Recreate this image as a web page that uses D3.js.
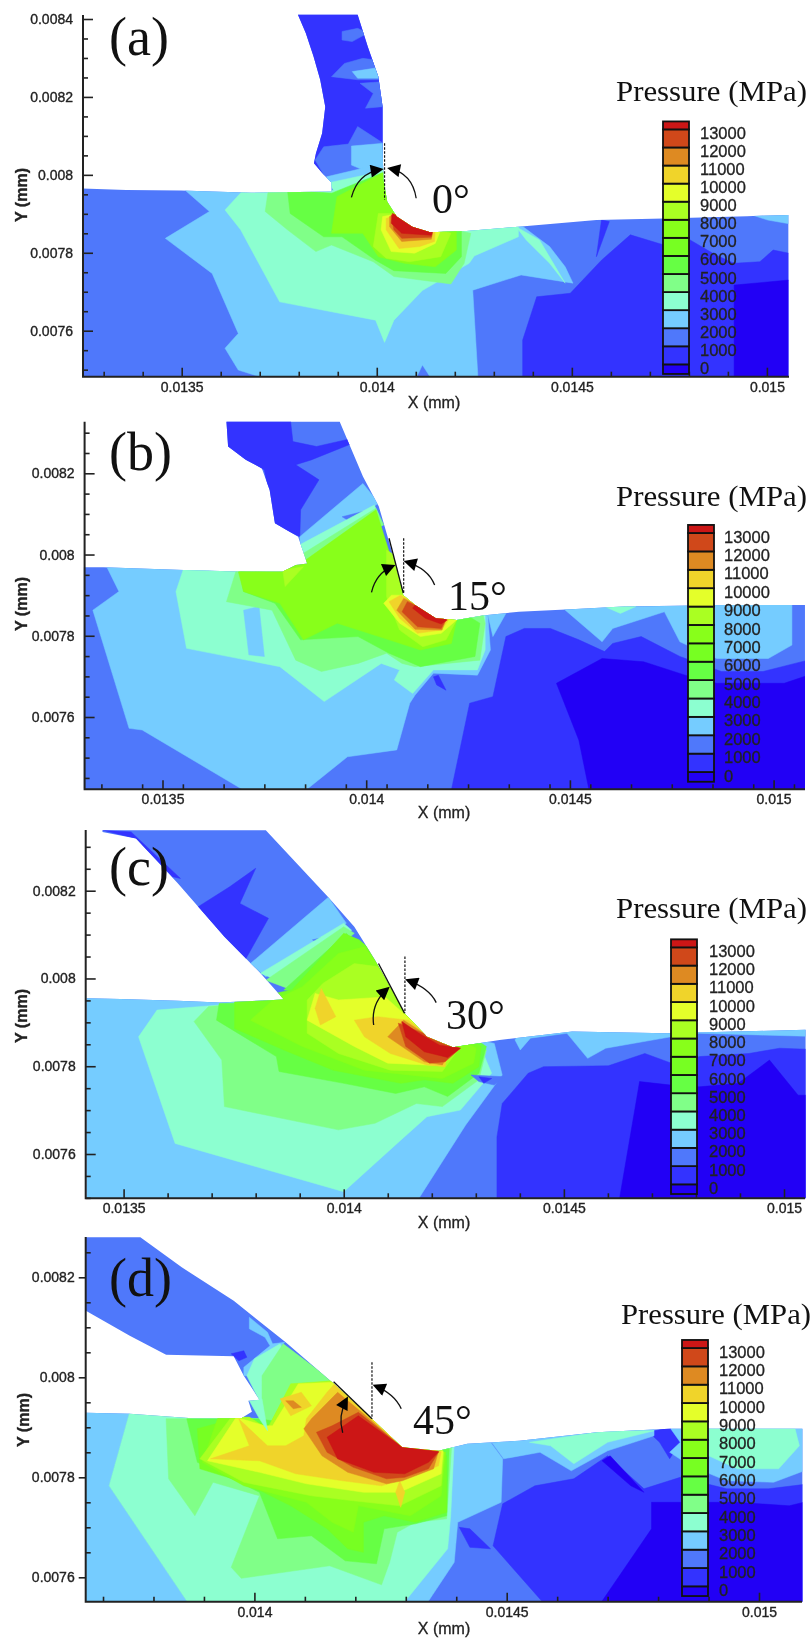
<!DOCTYPE html>
<html>
<head>
<meta charset="utf-8">
<script src="https://cdnjs.cloudflare.com/ajax/libs/d3/7.8.5/d3.min.js"></script>
<style>
html,body{margin:0;padding:0;background:#fff}
svg{display:block;filter:blur(0.55px)}
.tick text{font-family:"Liberation Sans",sans-serif;fill:#222;stroke:#222;stroke-width:0.35px}
.serif{font-family:"Liberation Serif",serif;fill:#111}
.sans{font-family:"Liberation Sans",sans-serif;fill:#222;stroke:#222;stroke-width:0.3px}
</style>
</head>
<body>
<div id="graph"></div>
<script>
// all coordinates below are data units: nanometres, tick labels show them as mm
var band_values = [0,1000,2000,3000,4000,5000,6000,7000,8000,9000,10000,11000,12000,13000,14000];
var band_colors = ['#2200f5','#3333ff','#4f78fb','#75ccff','#8cffd0','#80ff88','#66ff44','#77ff22','#88ff1a','#aaff22','#e4ff2a','#f0d42a','#de8a22','#d0481a','#cc1616'];
var legend_labels = [13000,12000,11000,10000,9000,8000,7000,6000,5000,4000,3000,2000,1000,0];
var legend_bounds = [-330,200,1200,2200,3200,4200,5200,6200,7200,8200,9200,10200,11200,12200,13200,13640];
var angle_names = ['0°','15°','30°','45°'];

var a_outline = [[13798,8411],[13818,8364],[13838,8304],[13855,8244],[13868,8175],[13860,8107],[13844,8055],[13839,8030],[13864,8000],[13884,7980],[13884,7957],[13678,7954],[13498,7960],[13358,7961],[13245,7965],[13245,7482],[15055,7482],[15055,7897],[14949,7894],[14736,7888],[14563,7884],[14363,7867],[14230,7856],[14137,7853],[14091,7867],[14051,7893],[14027,7931],[14017,7987],[14015,8072],[14015,8175],[14004,8252],[13977,8329],[13951,8411]];
var a_layers = [
[2000,[[13200,7470],[15100,7470],[15100,8420],[13200,8420]]],
[1000,[[14374,7470],[14374,7576],[14410,7687],[14496,7696],[14576,7781],[14650,7846],[14736,7820],[14803,7833],[14869,7794],[14916,7773],[14982,7777],[15016,7807],[15100,7790],[15100,7470]]],
[1000,[[14576,7884],[14596,7880],[14563,7790]]],
[0,[[14916,7470],[14916,7717],[15055,7730],[15100,7730],[15100,7470]]],
[3000,[[14949,7901],[15100,7901],[15100,7867],[15002,7884]]],
[1000,[[13778,8419],[14030,8419],[14044,8004],[13818,8004]]],
[2000,[[13911,8368],[13951,8376],[13977,8364],[13937,8342],[13911,8346]]],
[2000,[[13884,8252],[13917,8286],[13964,8299],[13997,8295],[14011,8244],[13951,8244]]],
[2000,[[13957,8235],[14011,8239],[14015,8175],[13971,8171],[13991,8209]]],
[2000,[[13842,8038],[13864,8072],[13927,8079],[13951,8124],[14017,8081],[14024,8030],[13911,7995],[13864,8000]]],
[3000,[[13937,8265],[13997,8274],[14011,8248],[13951,8248]]],
[3000,[[13935,8074],[14017,8081],[14024,8021],[13964,8013],[13935,8025]]],
[3000,[[13871,7995],[13964,8017],[14024,8030],[14024,7987],[13884,7970]]],
[3000,[[13498,7970],[13571,7906],[13458,7837],[13578,7747],[13645,7593],[13611,7555],[13645,7499],[13738,7470],[14097,7470],[14117,7512],[14144,7470],[14260,7470],[14246,7704],[14370,7743],[14503,7722],[14483,7764],[14443,7816],[14363,7876],[14230,7867],[13698,7961]]],
[4000,[[13878,7980],[13991,8004],[14024,8021],[14024,7953],[13898,7944]]],
[4000,[[13658,7961],[13611,7910],[13651,7859],[13751,7674],[13997,7627],[14020,7570],[14044,7627],[14117,7703],[14237,7773],[14250,7792],[14363,7841],[14363,7876],[14230,7867],[13884,7961]]],
[4000,[[14357,7867],[14417,7833],[14483,7722],[14443,7773],[14383,7833]]],
[5000,[[13722,7961],[13714,7906],[13771,7859],[13844,7803],[13884,7820],[13991,7777],[14044,7739],[14190,7720],[14224,7773],[14241,7850],[14164,7867],[13884,7953]]],
[6000,[[13771,7961],[13778,7901],[13864,7841],[13911,7841],[13997,7781],[14044,7754],[14177,7747],[14217,7790],[14217,7859],[14097,7867],[14044,7936],[14044,8008],[14011,8004],[13884,7953]]],
[8000,[[13898,7944],[13884,7850],[13964,7850],[14004,7790],[14071,7773],[14150,7764],[14204,7807],[14204,7859],[14097,7867],[14057,7936],[14020,8008]]],
[9000,[[14004,7901],[13991,7816],[14024,7786],[14084,7777],[14164,7790],[14190,7850],[14137,7867],[14057,7901]]],
[10000,[[14015,7893],[14011,7859],[14037,7803],[14097,7799],[14150,7824],[14164,7859],[14057,7901]]],
[11000,[[14024,7888],[14024,7859],[14057,7811],[14110,7816],[14148,7829],[14150,7859],[14057,7901]]],
[12000,[[14033,7893],[14033,7867],[14064,7829],[14140,7835],[14144,7859],[14057,7901]]],
[13000,[[14037,7897],[14044,7859],[14064,7837],[14140,7840],[14144,7859],[14084,7884]]],
[14000,[[14040,7901],[14037,7876],[14064,7850],[14140,7845],[14144,7859],[14084,7884]]]
];

var b_outline = [[13657,8327],[13661,8266],[13705,8233],[13744,8212],[13763,8159],[13776,8077],[13833,8044],[13855,7978],[13827,7974],[13795,7958],[13686,7958],[13552,7962],[13355,7969],[13307,7969],[13307,7422],[15077,7422],[15077,7876],[14885,7876],[14630,7872],[14503,7865],[14375,7859],[14286,7850],[14222,7839],[14171,7843],[14120,7876],[14091,7900],[14069,7987],[14031,8118],[13992,8192],[13935,8327]];
var b_layers = [
[2000,[[13300,7420],[15100,7420],[15100,8340],[13300,8340]]],
[1000,[[13648,8331],[13814,8331],[13820,8278],[13878,8266],[13957,8284],[13967,8274],[13865,8233],[13827,8221],[13884,8184],[13839,8110],[13837,8044],[13776,8073],[13750,8208],[13705,8233],[13648,8266]]],
[1000,[[14209,7420],[14254,7634],[14311,7650],[14343,7798],[14388,7818],[14452,7818],[14522,7790],[14585,7761],[14605,7781],[14675,7798],[14770,7749],[14872,7712],[14974,7712],[15100,7744],[15100,7420]]],
[0,[[14547,7420],[14522,7543],[14467,7683],[14579,7744],[14681,7736],[14783,7703],[14860,7683],[15026,7683],[15100,7708],[15100,7420]]],
[3000,[[13361,7974],[13393,7909],[13329,7863],[13418,7572],[13450,7568],[13699,7420],[13852,7420],[13954,7502],[14075,7519],[14107,7634],[14120,7654],[14165,7708],[14273,7703],[14305,7765],[14298,7855],[13559,7970]]],
[3000,[[14483,7868],[14579,7785],[14605,7818],[14732,7859],[14770,7785],[14860,7744],[14987,7744],[15045,7777],[15045,7880]]],
[3000,[[14298,7855],[14343,7855],[14311,7798]]],
[3000,[[13837,8044],[13992,8175],[14031,8126],[13839,8011]]],
[2000,[[13941,8093],[13992,8106],[14005,8085],[13967,8077]]],
[4000,[[13552,7966],[13533,7909],[13559,7769],[13788,7724],[13897,7638],[14037,7732],[14082,7716],[14069,7691],[14114,7658],[14165,7716],[14273,7716],[14292,7765],[14292,7855],[14120,7946],[13686,7962]]],
[3000,[[13699,7863],[13737,7872],[13750,7749],[13712,7753]]],
[4000,[[14585,7872],[14662,7872],[14624,7855]]],
[4000,[[13837,8024],[14020,8122],[14031,8097],[13846,7995]]],
[5000,[[13846,8003],[14024,8114],[14043,8073],[13855,7978]]],
[1000,[[14165,7699],[14177,7703],[14196,7666],[14173,7679]]],
[5000,[[13680,7958],[13657,7884],[13769,7863],[13827,7740],[13890,7712],[13980,7732],[14050,7757],[14088,7732],[14120,7724],[14279,7740],[14292,7831],[14286,7855],[14120,7946]]],
[6000,[[13689,7958],[13699,7909],[13776,7880],[13839,7790],[13980,7798],[14056,7757],[14133,7724],[14267,7749],[14279,7831],[14094,7946]]],
[8000,[[13852,7987],[14024,8110],[14088,7905],[14222,7839],[14209,7781],[14133,7765],[14056,7790],[13929,7831],[13846,7790],[13788,7880],[13699,7909],[13686,7958],[13801,7962]]],
[9000,[[14050,7896],[14050,8011],[14075,7995],[14222,7839],[14196,7790],[14139,7773],[14082,7814]]],
[9000,[[13795,7962],[13846,7970],[13801,7921]]],
[10000,[[14043,7880],[14062,7900],[14088,7900],[14222,7839],[14184,7806],[14133,7798],[14082,7831]]],
[11000,[[14056,7884],[14084,7900],[14203,7840],[14184,7814],[14126,7806],[14082,7843]]],
[12000,[[14075,7863],[14092,7892],[14196,7840],[14186,7814],[14120,7816]]],
[13000,[[14088,7859],[14101,7884],[14196,7840],[14184,7818],[14126,7822]]],
[14000,[[14114,7868],[14120,7876],[14199,7839],[14184,7829],[14145,7843]]]
];

var c_outline = [[13452,8338],[13823,8338],[13965,8185],[14024,8118],[14071,8042],[14138,7921],[14189,7867],[14248,7843],[14354,7860],[14519,7879],[14731,7875],[15049,7883],[15049,7499],[13416,7499],[13416,7955],[13493,7953],[13623,7949],[13717,7945],[13864,7952],[13811,8012],[13729,8095],[13623,8217],[13528,8319],[13452,8334]];
var c_layers = [
[2000,[[13400,7490],[15100,7490],[15100,8340],[13400,8340]]],
[1000,[[13452,8338],[13517,8334],[13629,8228],[13611,8232],[13528,8319]]],
[1000,[[13800,8251],[13764,8171],[13829,8137],[13776,8042],[13664,8160],[13741,8209]]],
[1000,[[14348,7490],[14348,7639],[14360,7715],[14419,7784],[14454,7799],[14601,7801],[14684,7829],[14755,7803],[14808,7822],[14920,7829],[14990,7841],[15100,7837],[15100,7490]]],
[0,[[14625,7490],[14672,7765],[14743,7757],[14808,7753],[14896,7761],[14967,7814],[15032,7734],[15100,7734],[15100,7490]]],
[3000,[[14389,7860],[14401,7837],[14424,7864],[14507,7875],[14554,7818],[14595,7841],[14743,7867],[14808,7875],[15100,7867],[15100,7890],[14401,7880]]],
[3000,[[13410,7958],[13410,7490],[14165,7490],[14277,7666],[14360,7780],[14342,7852],[13870,7958]]],
[3000,[[13788,8034],[13965,8185],[14006,8126],[13823,8004]]],
[2000,[[13929,8088],[13976,8099],[13982,8084],[13941,8080]]],
[4000,[[13576,7928],[13534,7867],[13617,7624],[14000,7514],[14130,7632],[14189,7685],[14265,7700],[14336,7784],[14312,7841],[13859,7951]]],
[4000,[[13811,8012],[14000,8126],[14018,8110],[13864,7989]]],
[5000,[[13693,7936],[13660,7902],[13723,7814],[13729,7708],[13988,7655],[14071,7670],[14165,7715],[14224,7708],[14307,7769],[14324,7837],[14047,7966]]],
[5000,[[13823,7996],[14000,8118],[14024,8103],[13882,7974]]],
[6000,[[13717,7943],[13711,7905],[13847,7822],[13853,7788],[14000,7761],[14118,7738],[14183,7753],[14236,7731],[14307,7784],[14324,7845],[14165,7951]]],
[6000,[[13864,7974],[14006,8103],[14071,8027],[13929,7966]]],
[7000,[[13752,7947],[13752,7886],[13864,7837],[13976,7791],[14130,7761],[14183,7769],[14248,7761],[14307,7799],[14312,7845],[14035,8088],[14000,8103],[13882,7974]]],
[8000,[[13835,7947],[13788,7905],[13906,7845],[14047,7791],[14224,7772],[14295,7807],[14301,7841],[14153,7928],[14047,8072],[13988,8057],[13906,7981]]],
[9000,[[13917,7951],[13917,7875],[13988,7829],[14106,7791],[14224,7788],[14259,7837],[14153,7917],[14077,8027],[14024,8034],[13953,7989]]],
[10000,[[13935,7966],[13917,7905],[14024,7845],[14100,7807],[14224,7801],[14253,7837],[14153,7905],[14094,7958],[13988,7951]]],
[11000,[[13935,7932],[13949,7977],[13982,7913],[13947,7894]]],
[11000,[[14024,7905],[14077,7913],[14147,7905],[14236,7837],[14230,7799],[14189,7803],[14106,7829],[14047,7867]]],
[12000,[[14100,7867],[14136,7905],[14242,7837],[14224,7803],[14183,7810]]],
[13000,[[14124,7898],[14141,7845],[14195,7807],[14230,7810],[14265,7841]]],
[14000,[[14132,7902],[14141,7867],[14183,7833],[14236,7820],[14265,7841],[14218,7848],[14171,7875]]],
[2000,[[14289,7780],[14365,7776],[14342,7757],[14307,7765]]],
[1000,[[14307,7776],[14336,7772],[14318,7761]]]
];

var d_outline = [[13666,8280],[13774,8280],[13856,8220],[13959,8153],[14062,8070],[14154,7990],[14237,7913],[14293,7860],[14365,7853],[14422,7867],[14525,7873],[14679,7890],[14823,7897],[15086,7897],[15086,7551],[13666,7551],[13666,7929],[13753,7927],[13877,7918],[13974,7918],[13995,7931],[13988,7953],[14010,7955],[13979,8003],[13959,8042],[13825,8045],[13753,8083],[13666,8133]];
var d_layers = [
[2000,[[13650,7545],[15100,7545],[15100,8290],[13650,8290]]],
[1000,[[13954,8047],[13979,8053],[13985,8040],[13969,8033]]],
[1000,[[14576,7545],[14473,7663],[14492,7747],[14556,7783],[14633,7797],[14700,7843],[14772,7777],[14844,7800],[14936,7777],[15019,7777],[15100,7787],[15100,7545]]],
[1000,[[14782,7890],[14823,7900],[14844,7870],[14823,7837],[14803,7870]]],
[0,[[14684,7545],[14787,7697],[14787,7750],[14957,7750],[15060,7743],[15100,7753],[15100,7545]]],
[0,[[14689,7833],[14705,7843],[14772,7770],[14746,7783]]],
[1000,[[14406,7700],[14427,7697],[14468,7657],[14427,7660]]],
[3000,[[13660,7931],[13753,7931],[13712,7783],[13871,7545],[13660,7545]]],
[3000,[[14293,7545],[14340,7545],[14396,7630],[14403,7710],[14489,7750],[14492,7837],[14468,7870],[14391,7870],[14381,7717]]],
[3000,[[14468,7873],[14525,7877],[14679,7893],[14792,7900],[14792,7883],[14700,7853],[14628,7813],[14566,7850],[14494,7837]]],
[3000,[[14823,7900],[15100,7900],[15100,7817],[15029,7790],[14936,7793],[14864,7823],[14823,7850],[14844,7870]]],
[3000,[[13990,8120],[14026,8090],[14036,8067],[14060,8070],[14000,8003],[13979,8003],[13979,8020],[14031,8063],[14021,8080],[13990,8097]]],
[4000,[[13753,7931],[13712,7783],[13871,7545],[14293,7545],[14383,7657],[14389,7723],[14396,7870],[14010,7917],[13877,7927]]],
[4000,[[14545,7870],[14700,7893],[14792,7893],[14700,7870],[14633,7827],[14587,7863]]],
[4000,[[14885,7903],[15070,7903],[15080,7863],[15039,7817],[14957,7817],[14900,7843],[14885,7877]]],
[4000,[[13985,8003],[14000,8037],[14051,8067],[14060,8050],[14021,7957],[14010,7953]]],
[5000,[[14015,8003],[14057,8067],[14154,7993],[14093,7983],[14026,7903],[14015,7937]]],
[5000,[[13825,7917],[13830,7797],[13882,7723],[13918,7790],[14010,7763],[13954,7620],[13974,7598],[14149,7623],[14252,7585],[14268,7630],[14283,7690],[14319,7710],[14381,7717],[14391,7863],[14010,7917]]],
[6000,[[13866,7917],[13887,7830],[14010,7770],[14046,7677],[14113,7683],[14180,7633],[14242,7627],[14257,7697],[14319,7707],[14381,7723],[14386,7857],[14010,7917]]],
[7000,[[13887,7897],[13892,7817],[13979,7790],[14072,7743],[14144,7697],[14185,7657],[14216,7650],[14216,7710],[14257,7723],[14319,7710],[14381,7730],[14381,7843],[13959,7917]]],
[8000,[[13928,7920],[13897,7830],[13979,7783],[14103,7750],[14154,7710],[14196,7690],[14206,7743],[14309,7723],[14370,7763],[14379,7850],[14293,7860],[14154,7993],[14072,7983],[14026,7897],[13990,7920]]],
[9000,[[13954,7920],[13892,7837],[13979,7790],[14113,7763],[14196,7753],[14288,7743],[14370,7783],[14376,7850],[14293,7860],[14154,7993],[14072,7987],[14026,7897],[13990,7920]]],
[10000,[[13964,7920],[13907,7833],[14010,7810],[14103,7787],[14216,7770],[14288,7770],[14370,7807],[14374,7853],[14293,7860],[14159,7990],[14087,7987],[14036,7903],[14021,7903]]],
[11000,[[13969,7917],[13990,7863],[13913,7837],[14010,7833],[14082,7807],[14175,7793],[14252,7783],[14309,7800],[14365,7823],[14370,7851],[14293,7860],[14159,7987],[14144,7970],[14103,7917],[14098,7883],[14062,7863],[14026,7863]]],
[11000,[[14051,7957],[14093,7970],[14113,7943],[14072,7923]]],
[11000,[[14280,7770],[14288,7793],[14298,7770],[14290,7740]]],
[12000,[[14062,7953],[14077,7953],[14093,7940],[14077,7937]]],
[12000,[[14098,7897],[14113,7917],[14165,7970],[14216,7927],[14293,7860],[14365,7853],[14355,7817],[14293,7793],[14262,7787],[14185,7810],[14134,7843]]],
[13000,[[14123,7890],[14154,7903],[14206,7930],[14293,7860],[14365,7851],[14345,7817],[14298,7800],[14262,7797],[14196,7820],[14144,7850]]],
[14000,[[14144,7880],[14206,7923],[14293,7860],[14365,7851],[14345,7830],[14298,7807],[14237,7810],[14165,7837]]],
[4000,[[13990,7953],[14015,7957],[14026,7893],[14010,7917]]]
];

// angle guides: dashed vertical, tangent of the tool face, two curved arrows (start, control, end)
var a_guide = {dash:[[14020,8081],[14020,7936]], tangent:null, arcs:[[[13935,7942],[13951,8004],[14011,8014]],[[14101,7940],[14091,8004],[14033,8016]]]};
var b_guide = {dash:[[14092,8040],[14092,7905]], tangent:[[14056,8040],[14091,7905]], arcs:[[[14013,7907],[14024,7954],[14066,7972]],[[14168,7925],[14152,7966],[14098,7982]]]};
var c_guide = {dash:[[14139,8050],[14139,7921]], tangent:[[14079,8034],[14138,7921]], arcs:[[[14068,7894],[14061,7943],[14100,7977]],[[14210,7945],[14195,7977],[14145,7996]]]};
var d_guide = {dash:[[14233,8030],[14233,7917]], tangent:[[14157,7991],[14233,7917]], arcs:[[[14175,7889],[14165,7923],[14183,7957]],[[14291,7937],[14278,7967],[14239,7983]]]};

// page layout of each panel
var panels = [
  {id:'a',letter:'(a)',outline:a_outline,layers:a_layers,guide:a_guide,xd:[13500,15000],xr:[181.7,766.9],yd:[7600,8400],yr:[330.7,19],left:83,right:789,top:15,bottom:376.7,xMin:13300,yTicks:[7600,7800,8000,8200,8400],xTicks:[13500,14000,14500,15000],
   letterPos:[109,55],anglePos:[432,213],titlePos:[616,101],titleW:191,barX:[663,689],legY:[368,133],legLabelX:700,xLabel:[434,408],yLabel:[27,195],outY:false},
  {id:'b',letter:'(b)',outline:b_outline,layers:b_layers,guide:b_guide,xd:[13500,15000],xr:[162.5,773.6],yd:[7600,8200],yr:[717,473.3],left:84.6,right:805,top:421.7,bottom:789.3,xMin:13350,yTicks:[7600,7800,8000,8200],xTicks:[13500,14000,14500,15000],
   letterPos:[109,470],anglePos:[448,610],titlePos:[616,506],titleW:191,barX:[688,714],legY:[775.7,536.7],legLabelX:724,xLabel:[444,818],yLabel:[27,604],outY:false},
  {id:'c',letter:'(c)',outline:c_outline,layers:c_layers,guide:c_guide,xd:[13500,15000],xr:[123.6,784],yd:[7600,8200],yr:[1154,890.7],left:85.7,right:805,top:830,bottom:1198.3,xMin:13500,yTicks:[7600,7800,8000,8200],xTicks:[13500,14000,14500,15000],
   letterPos:[109,885],anglePos:[446,1029],titlePos:[616,918],titleW:191,barX:[671,697],legY:[1188,951],legLabelX:709,xLabel:[444,1228],yLabel:[27,1016],outY:false},
  {id:'d',letter:'(d)',outline:d_outline,layers:d_layers,guide:d_guide,xd:[14000,15000],xr:[254.4,759],yd:[7600,8200],yr:[1577.3,1277.3],left:85.7,right:802,top:1237,bottom:1601.7,xMin:13700,yTicks:[7600,7800,8000,8200],xTicks:[14000,14500,15000],
   letterPos:[109,1296],anglePos:[413,1434],titlePos:[621,1324],titleW:190,barX:[682,708],legY:[1590,1351.7],legLabelX:719,xLabel:[444,1634],yLabel:[29,1420],outY:true}
];

var color = d3.scaleOrdinal().domain(band_values).range(band_colors);
var mm = d => String(+(d/1e6).toFixed(4));

var svg = d3.select('#graph').append('svg').attr('width',812).attr('height',1639);
var defs = svg.append('defs');
defs.append('marker').attr('id','head').attr('viewBox','0 0 10 10').attr('refX',8).attr('refY',5)
    .attr('markerUnits','userSpaceOnUse').attr('markerWidth',15).attr('markerHeight',13).attr('orient','auto')
    .append('path').attr('d','M0,0 L10,5 L0,10 Z').attr('fill','#000');

panels.forEach(function(p,pi){
  var x = d3.scaleLinear().domain(p.xd).range(p.xr);
  var y = d3.scaleLinear().domain(p.yd).range(p.yr);
  var line = d3.line().x(d=>x(d[0])).y(d=>y(d[1]));

  defs.append('clipPath').attr('id','shape_'+p.id).append('path').attr('d',line(p.outline)+'Z');

  var plot = svg.append('g').attr('clip-path','url(#shape_'+p.id+')');
  plot.selectAll('path').data(p.layers).enter().append('path')
      .attr('d',d=>line(d[1])+'Z')
      .attr('fill',d=>color(d[0]))
      .attr('stroke',d=>color(d[0])).attr('stroke-width',0.5);

  // axes
  var xMinor = d3.range(p.xMin,15100,100).filter(v=>x(v)>p.left && x(v)<p.right && p.xTicks.indexOf(v)<0);
  var yMinor = d3.range(7400,8450,50).filter(v=>y(v)>p.top && y(v)<p.bottom && p.yTicks.indexOf(v)<0);

  var ax = svg.append('g').attr('transform',`translate(0,${p.bottom})`)
     .call(d3.axisBottom(x).tickValues(p.xTicks).tickFormat(mm).tickSizeInner(-9).tickSizeOuter(0).tickPadding(5));
  ax.select('.domain').remove();
  ax.selectAll('text').style('font-size','14px');
  var axm = svg.append('g').attr('transform',`translate(0,${p.bottom})`)
     .call(d3.axisBottom(x).tickValues(xMinor).tickFormat('').tickSizeInner(-5).tickSizeOuter(0));
  axm.select('.domain').remove();

  var ay = svg.append('g').attr('transform',`translate(${p.left},0)`)
     .call(d3.axisLeft(y).tickValues(p.yTicks).tickFormat(mm).tickSizeInner(p.outY?7:-10).tickSizeOuter(0).tickPadding(p.outY?4:10));
  ay.select('.domain').remove();
  ay.selectAll('text').style('font-size','14px');
  var aym = svg.append('g').attr('transform',`translate(${p.left},0)`)
     .call(d3.axisLeft(y).tickValues(yMinor).tickFormat('').tickSizeInner(-5).tickSizeOuter(0));
  aym.select('.domain').remove();
  svg.selectAll('.tick line').attr('stroke','#222').attr('stroke-width',1.6);

  svg.append('path').attr('d',`M${p.left},${p.top}V${p.bottom}H${p.right}`).attr('fill','none').attr('stroke','#222').attr('stroke-width',2);

  svg.append('text').attr('class','sans').attr('x',p.xLabel[0]).attr('y',p.xLabel[1]).attr('text-anchor','middle').style('font-size','16px').text('X (mm)');
  svg.append('text').attr('class','sans').attr('transform',`translate(${p.yLabel[0]},${p.yLabel[1]}) rotate(-90)`).attr('text-anchor','middle').style('font-size','16px').style('font-weight','bold').text('Y (mm)');

  // angle guide
  var g = p.guide;
  svg.append('path').attr('d',line(g.dash)).attr('stroke','#111').attr('stroke-width',1.2).attr('stroke-dasharray','2.5,1.5').attr('fill','none');
  if(g.tangent) svg.append('path').attr('d',line(g.tangent)).attr('stroke','#111').attr('stroke-width',1.3).attr('fill','none');
  g.arcs.forEach(function(a){
    var pth = d3.path();
    pth.moveTo(x(a[0][0]),y(a[0][1]));
    pth.quadraticCurveTo(x(a[1][0]),y(a[1][1]),x(a[2][0]),y(a[2][1]));
    svg.append('path').attr('d',pth.toString()).attr('fill','none').attr('stroke','#111').attr('stroke-width',1.3).attr('marker-end','url(#head)');
  });

  // colour bar
  var leg = d3.scaleLinear().domain([0,13000]).range(p.legY);
  var swatches = d3.pairs(legend_bounds);
  svg.append('g').selectAll('rect').data(swatches).enter().append('rect')
     .attr('x',p.barX[0]).attr('width',p.barX[1]-p.barX[0])
     .attr('y',d=>leg(d[1])).attr('height',d=>leg(d[0])-leg(d[1]))
     .attr('fill',(d,i)=>band_colors[i]).attr('stroke','#111').attr('stroke-width',1.8);
  svg.append('g').selectAll('text').data(legend_labels).enter().append('text')
     .attr('class','sans').attr('x',p.legLabelX).attr('y',d=>leg(d)).attr('dy','.36em')
     .style('font-size','16.5px').text(d=>d);

  svg.append('text').attr('class','serif').attr('x',p.titlePos[0]).attr('y',p.titlePos[1])
     .attr('textLength',p.titleW).attr('lengthAdjust','spacingAndGlyphs').style('font-size','30px').text('Pressure (MPa)');
  svg.append('text').attr('class','serif').attr('x',p.letterPos[0]).attr('y',p.letterPos[1]).style('font-size','54px').text(p.letter);
  svg.append('text').attr('class','serif').attr('x',p.anglePos[0]).attr('y',p.anglePos[1]).style('font-size','42px').text(angle_names[pi]);
});
</script>
</body>
</html>
